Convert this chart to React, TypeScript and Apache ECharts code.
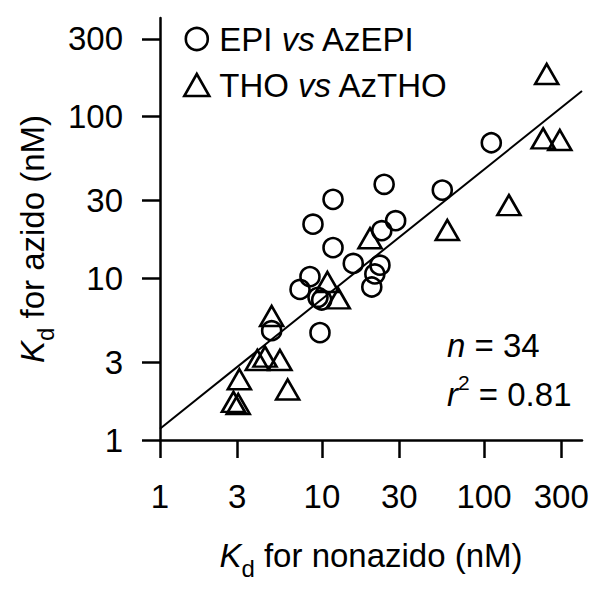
import React, { useEffect, useRef } from "react";
import * as echarts from "echarts";

// ---- data (nM) ----
const epiNonazido = [111, 24.2, 55.3, 11.7, 8.8, 28.5, 23.4, 11.7, 15.6, 22.8, 21.2, 20.3, 8.43, 7.32, 9.96, 9.72, 4.89, 9.45];
const epiAzido = [68.4, 37.9, 34.9, 30.6, 21.5, 22.6, 19.6, 15.4, 12.3, 12.0, 10.6, 8.8, 10.2, 8.5, 7.32, 4.6, 4.73, 7.6];
const thoNonazido = [244, 232, 294, 142.6, 59.4, 19.8, 10.8, 12.6, 4.89, 3.99, 4.45, 5.5, 3.09, 6.14, 2.84, 3.04];
const thoAzido = [181.6, 72.8, 71.1, 28.2, 19.8, 17.6, 9.45, 7.49, 5.83, 3.12, 3.27, 3.12, 2.37, 2.05, 1.72, 1.67];
const tickValues = [1, 3, 10, 30, 100, 300];
const axisMin = 1;
const axisMax = 403;
// log10(azido) = fitIntercept + fitSlope * log10(nonazido)
const fitIntercept = 0.07;
const fitSlope = 0.8;
const seriesNames = ["EPI vs AzEPI", "THO vs AzTHO"];
const statN = "34";
const statR2 = "0.81";

const FONT = '"Liberation Sans", Arial, Helvetica, sans-serif';
const lg = (v: number) => Math.log10(v);

export default function App() {
  const ref = useRef<HTMLDivElement>(null);
  useEffect(() => {
    if (!ref.current) return;
    const chart = echarts.init(ref.current, null, { renderer: "svg" });
    const tickLogs = tickValues.map(lg);
    const lo = lg(axisMin);
    const hi = lg(axisMax);
    const markerStyle = { color: "transparent", borderColor: "#000", borderWidth: 2.6, opacity: 1 };
    const nameRich = {
      k: { fontStyle: "italic", fontSize: 33, lineHeight: 33, verticalAlign: "top", fontFamily: FONT, color: "#000" },
      d: { fontSize: 24, padding: [17, 0, 0, 0], verticalAlign: "top", fontFamily: FONT, color: "#000" },
      t: { fontSize: 33, lineHeight: 33, verticalAlign: "top", fontFamily: FONT, color: "#000" },
    };
    const axisCommon = {
      type: "value",
      min: lo,
      max: hi,
      splitLine: { show: false },
      axisLine: { show: true, lineStyle: { color: "#000", width: 2.5 } },
      axisTick: { show: true, length: 18, inside: false, lineStyle: { color: "#000", width: 2.5 }, customValues: tickLogs },
      axisLabel: {
        customValues: tickLogs,
        formatter: (v: number) => String(Math.round(Math.pow(10, v))),
        fontSize: 33,
        fontFamily: FONT,
        color: "#000",
      },
      nameLocation: "middle",
    };
    chart.setOption({
      animation: false,
      backgroundColor: "#fff",
      grid: { left: 160, top: 18, right: 20, bottom: 153, containLabel: false, outerBoundsMode: "none" },
      xAxis: {
        ...axisCommon,
        axisLabel: { ...axisCommon.axisLabel, margin: 40 },
        name: "{k|K}{d|d}{t| for nonazido (nM)}",
        nameGap: 99,
        nameTextStyle: { fontSize: 33, fontFamily: FONT, color: "#000", rich: nameRich },
      },
      yAxis: {
        ...axisCommon,
        axisLabel: { ...axisCommon.axisLabel, margin: 37 },
        name: "{k|K}{d|d}{t| for azido (nM)}",
        nameGap: 100,
        nameTextStyle: { fontSize: 33, fontFamily: FONT, color: "#000", rich: nameRich, padding: [0, 20, 0, 0] },
      },
      legend: {
        orient: "vertical",
        left: 183,
        top: 22,
        padding: 0,
        itemWidth: 25,
        itemHeight: 22,
        itemGap: 12,
        selectedMode: false,
        formatter: (name: string) => name.replace(" vs ", " {i|vs} "),
        textStyle: {
          fontSize: 33,
          lineHeight: 34,
          fontFamily: FONT,
          color: "#000",
          padding: [0, 0, 0, 5],
          rich: { i: { fontStyle: "italic", fontSize: 33, lineHeight: 34, fontFamily: FONT, color: "#000" } },
        },
        data: [
          { name: seriesNames[0], icon: "circle", itemStyle: markerStyle },
          { name: seriesNames[1], icon: "triangle", itemStyle: markerStyle },
        ],
      },
      series: [
        {
          name: "fit",
          type: "line",
          showSymbol: false,
          silent: true,
          lineStyle: { color: "#000", width: 2 },
          data: [
            [lo, fitIntercept + fitSlope * lo],
            [hi, fitIntercept + fitSlope * hi],
          ],
          z: 1,
        },
        {
          name: seriesNames[0],
          type: "scatter",
          symbol: "circle",
          symbolSize: 19,
          itemStyle: markerStyle,
          data: epiNonazido.map((x, i) => [lg(x), lg(epiAzido[i])]),
          z: 2,
        },
        {
          name: seriesNames[1],
          type: "scatter",
          symbol: "triangle",
          symbolSize: [23, 20],
          itemStyle: markerStyle,
          data: thoNonazido.map((x, i) => [lg(x), lg(thoAzido[i])]),
          z: 2,
        },
      ],
      graphic: [
        {
          type: "text",
          x: 447,
          y: 345,
          style: {
            text: "{i|n} = " + statN,
            fontSize: 33,
            fontFamily: FONT,
            fill: "#000",
            align: "left",
            verticalAlign: "middle",
            rich: { i: { fontStyle: "italic", fontSize: 33, fontFamily: FONT, fill: "#000" } },
          },
        },
        {
          type: "text",
          x: 447,
          y: 391,
          style: {
            text: "{r|r}{s|2}{t| = " + statR2 + "}",
            fontSize: 33,
            fontFamily: FONT,
            fill: "#000",
            align: "left",
            verticalAlign: "middle",
            rich: {
              r: { fontStyle: "italic", fontSize: 33, lineHeight: 39, verticalAlign: "bottom", fontFamily: FONT, fill: "#000" },
              s: { fontSize: 21, lineHeight: 21, verticalAlign: "top", fontFamily: FONT, fill: "#000" },
              t: { fontSize: 33, lineHeight: 39, verticalAlign: "bottom", fontFamily: FONT, fill: "#000" },
            },
          },
        },
      ],
    });
    return () => chart.dispose();
  }, []);
  return <div ref={ref} style={{ position: "absolute", left: 0, top: 0, width: 602, height: 593 }} />;
}
